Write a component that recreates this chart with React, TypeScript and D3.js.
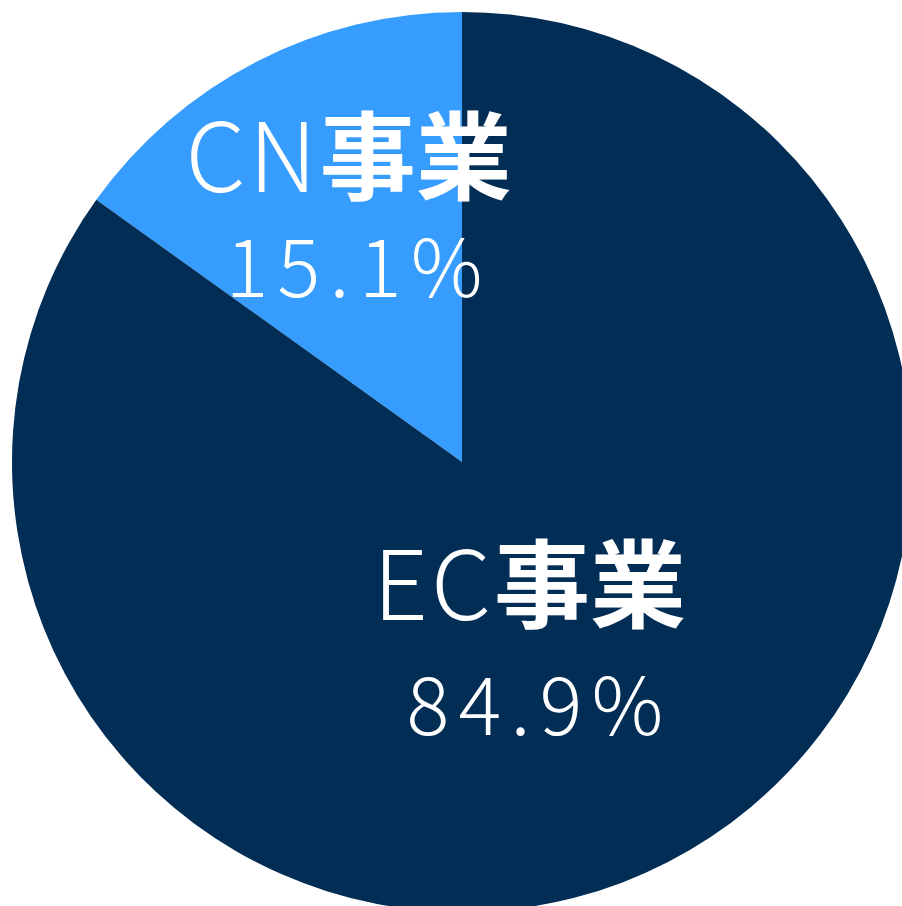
import React from "react";
import * as d3 from "d3";

const categories = ["EC事業", "CN事業"];
const latinParts = ["EC", "CN"];
const kanjiParts = ["事業", "事業"];
const values = [84.9, 15.1];
const valueLabels = ["84.9%", "15.1%"];
const colors = ["#022d55", "#369dfe"];

const W = 902;
const H = 906;
const cx = 462;
const cy = 462;
const R = 450;

// label layout (relative to pie center, in units of radius)
const labelLayout = [
  { dx: 0.15, nameY: 0.35, valY: 0.607 },
  { dx: -0.252, nameY: -0.6, valY: -0.366 },
];

export default function App() {
  const startCN = -2 * Math.PI * (values[1] / d3.sum(values));
  const slices = d3
    .pie<number>()
    .sort(null)
    .startAngle(startCN)
    .endAngle(startCN + 2 * Math.PI)([values[1], values[0]]);
  const arc = d3.arc<d3.PieArcDatum<number>>().innerRadius(0).outerRadius(R);
  const ordered = [
    { i: 1, d: slices[0] },
    { i: 0, d: slices[1] },
  ];
  return (
    <svg width={W} height={H} style={{ position: "absolute", left: 0, top: 0 }}>
      <g transform={`translate(${cx},${cy})`}>
        {ordered.map(({ i, d }) => (
          <path key={categories[i]} d={arc(d) || ""} fill={colors[i]} />
        ))}
        {categories.map((c, i) => {
          const L = labelLayout[i];
          return (
            <g key={c} fill="#fff" fontFamily="'Noto Sans CJK JP', sans-serif" textAnchor="middle">
              <text x={L.dx * R} y={L.nameY * R} fontSize={96}>
                <tspan fontWeight={300} letterSpacing="3">{latinParts[i]}</tspan>
                <tspan fontWeight={700}>{kanjiParts[i]}</tspan>
              </text>
              <text x={L.dx * R + 10} y={L.valY * R} fontSize={80} fontWeight={300} letterSpacing="0.115em">
                {valueLabels[i]}
              </text>
            </g>
          );
        })}
      </g>
    </svg>
  );
}
